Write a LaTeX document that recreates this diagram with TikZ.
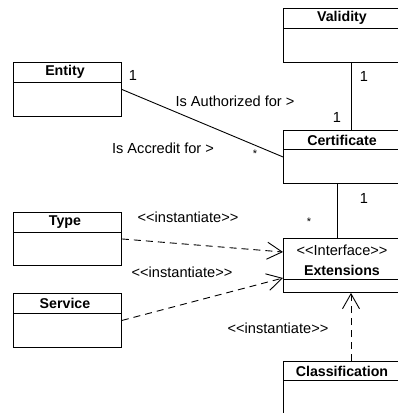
\documentclass[tikz,border=0pt]{standalone}
\usepackage{fontspec}
\setmainfont{Liberation Sans}
\usetikzlibrary{arrows.meta,calc}
% stereotype brackets kept as plain angle brackets
\newcommand\stereo[1]{<\kern0pt<#1>\kern0pt>}
\begin{document}
\begin{tikzpicture}[x=1pt,y=-1pt,
  line width=0.9pt,
  every node/.style={font=\fontsize{14.6}{16}\selectfont},
  classbox/.style={draw, rectangle, anchor=north west, inner sep=0pt, minimum width=#1},
  classname/.style={font=\fontsize{14.2}{16}\selectfont\bfseries, inner sep=0pt},
  lbl/.style={inner sep=0pt},
  star/.style={inner sep=0pt, font=\fontsize{11}{12}\selectfont},
  dep/.style={draw, dash pattern=on 7pt off 5pt, -{Straight Barb[length=15pt,width=17pt]}}]
\useasboundingbox (0,0) rectangle (398,413);
\clip (0,0) rectangle (398,413);

% class boxes
\node[classbox=108pt, minimum height=54pt] (entity) at (13,62) {};
\node[classname] (entityname) at (65,72) {Entity};
\draw ($(entity.north west)+(0,20)$) -- ($(entity.north east)+(0,20)$);

\node[classbox=108pt, minimum height=53pt] (type) at (13,212) {};
\node[classname] (typename) at (65,222) {Type};
\draw ($(type.north west)+(0,20)$) -- ($(type.north east)+(0,20)$);

\node[classbox=108pt, minimum height=54pt] (service) at (13,293) {};
\node[classname] (servicename) at (65,303) {Service};
\draw ($(service.north west)+(0,20)$) -- ($(service.north east)+(0,20)$);

\node[classbox=119pt, minimum height=54pt] (validity) at (283,8) {};
\node[classname] (validityname) at (342,18) {Validity};
\draw ($(validity.north west)+(0,20)$) -- ($(validity.north east)+(0,20)$);

\node[classbox=119pt, minimum height=53pt] (certificate) at (283,130) {};
\node[classname] (certificatename) at (342,140) {Certificate};
\draw ($(certificate.north west)+(0,19)$) -- ($(certificate.north east)+(0,19)$);

\node[classbox=119pt, minimum height=54pt] (extensions) at (283,238) {};
\node[lbl] (extstereo) at (342,250) {\stereo{Interface}};
\node[classname] (extensionsname) at (342,270) {Extensions};
\draw ($(extensions.north west)+(0,41)$) -- ($(extensions.north east)+(0,41)$);

\node[classbox=119pt, minimum height=70pt] (classification) at (283,361) {};
\node[classname] (classificationname) at (342,371) {Classification};
\draw ($(classification.north west)+(0,19)$) -- ($(classification.north east)+(0,19)$);

% end points on the box borders
\coordinate (validityfoot) at ($(validity.south west)+(68,0)$);
\coordinate (certtop) at ($(certificate.north west)+(68,0)$);
\coordinate (certfoot) at ($(certificate.south west)+(54,0)$);
\coordinate (exttop) at ($(extensions.north west)+(54,0)$);
\coordinate (extin1) at ($(extensions.north west)+(0,14)$);
\coordinate (extin2) at ($(extensions.north west)+(0,40)$);
\coordinate (extfoot) at ($(extensions.south west)+(68,0)$);
\coordinate (classtop) at ($(classification.north west)+(68,0)$);

% associations
\draw (entity.east) -- (certificate.west);
\draw (validityfoot) -- (certtop);
\draw (certfoot) -- (exttop);

% dependencies
\draw[dep] (type.east) -- (extin1);
\draw[dep] (service.east) -- (extin2);
\draw[dep] (classtop) -- (extfoot);

% association labels and multiplicities
\node[lbl] (m1) at (133,75) {1};
\node[lbl] (authlbl) at (235,101) {Is Authorized for >};
\node[lbl] (m2) at (337,117) {1};
\node[lbl] (accrlbl) at (163,148) {Is Accredit for >};
\node[star] (m3) at (255,154) {*};
\node[lbl] (m4) at (364,76) {1};
\node[lbl] (m5) at (364,198) {1};
\node[star] (m6) at (309,222) {*};

% dependency labels
\node[lbl] (inst1) at (188,217) {\stereo{instantiate}};
\node[lbl] (inst2) at (182,272) {\stereo{instantiate}};
\node[lbl] (inst3) at (278,328) {\stereo{instantiate}};
\end{tikzpicture}
\end{document}
